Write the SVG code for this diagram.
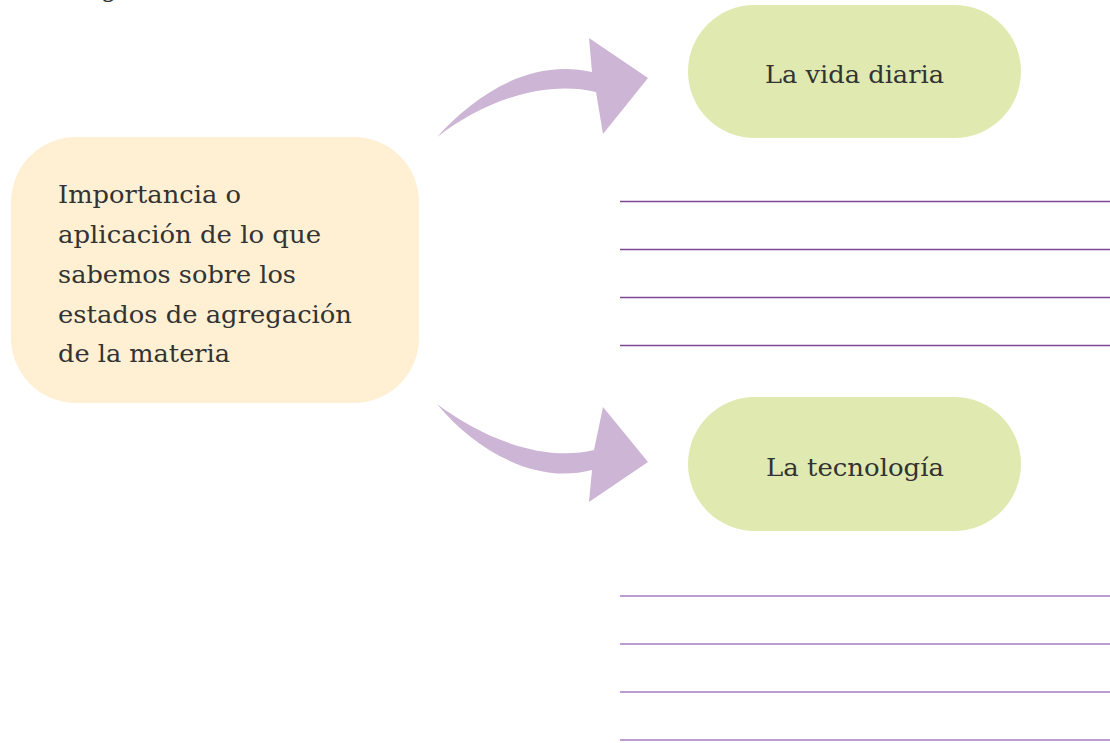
<svg xmlns="http://www.w3.org/2000/svg" width="1110" height="743" viewBox="0 0 1110 743">
<style>
.t{font-family:"DejaVu Serif","Liberation Serif",serif;fill:#333;}
.main{font-size:25px;}
.pill{fill:#e0eab0;}
.arrow{fill:#cdb5d5;}
.l1{stroke:#7b4897;stroke-width:1.4;}
.l2{stroke:#a87bc0;stroke-width:1.5;}
</style>
<rect width="1110" height="743" fill="#ffffff"/>
<text class="t" x="101" y="-3" font-size="25">g</text>
<g id="connectors">
<path class="arrow" d="M437,137 C475,95 530,58 592,72 L589,38 L648,78 L603,134 L596,92 C545,80 485,100 437,137 Z"/>
<path class="arrow" d="M437,404 C475,450 535,485 592,470 L589,502 L648,462 L603,407 L594,450 C545,462 485,440 437,404 Z"/>
</g>
<g id="main">
<rect x="11" y="137" width="408" height="266" rx="65" ry="65" fill="#fff0d4"/>
<text class="t main" x="58" y="203" textLength="183" lengthAdjust="spacingAndGlyphs">Importancia o</text>
<text class="t main" x="58" y="243" textLength="263" lengthAdjust="spacingAndGlyphs">aplicación de lo que</text>
<text class="t main" x="58" y="283" textLength="238" lengthAdjust="spacingAndGlyphs">sabemos sobre los</text>
<text class="t main" x="58" y="323" textLength="294" lengthAdjust="spacingAndGlyphs">estados de agregación</text>
<text class="t main" x="58" y="362" textLength="172" lengthAdjust="spacingAndGlyphs">de la materia</text>
</g>
<g id="vida">
<rect class="pill" x="688" y="5" width="333" height="133" rx="66.5" ry="66.5"/>
<text class="t" x="765" y="83" font-size="25" textLength="179" lengthAdjust="spacingAndGlyphs">La vida diaria</text>
</g>
<g id="tecnologia">
<rect class="pill" x="688" y="397" width="333" height="134" rx="67" ry="67"/>
<text class="t" x="766" y="476" font-size="25" textLength="178" lengthAdjust="spacingAndGlyphs">La tecnología</text>
</g>
<g id="lines-top">
<line class="l1" x1="620" y1="201.5" x2="1110" y2="201.5"/>
<line class="l1" x1="620" y1="249.5" x2="1110" y2="249.5"/>
<line class="l1" x1="620" y1="297.5" x2="1110" y2="297.5"/>
<line class="l1" x1="620" y1="345.5" x2="1110" y2="345.5"/>
</g>
<g id="lines-bottom">
<line class="l2" x1="620" y1="596" x2="1110" y2="596"/>
<line class="l2" x1="620" y1="644" x2="1110" y2="644"/>
<line class="l2" x1="620" y1="692" x2="1110" y2="692"/>
<line class="l2" x1="620" y1="740" x2="1110" y2="740"/>
</g>
</svg>
